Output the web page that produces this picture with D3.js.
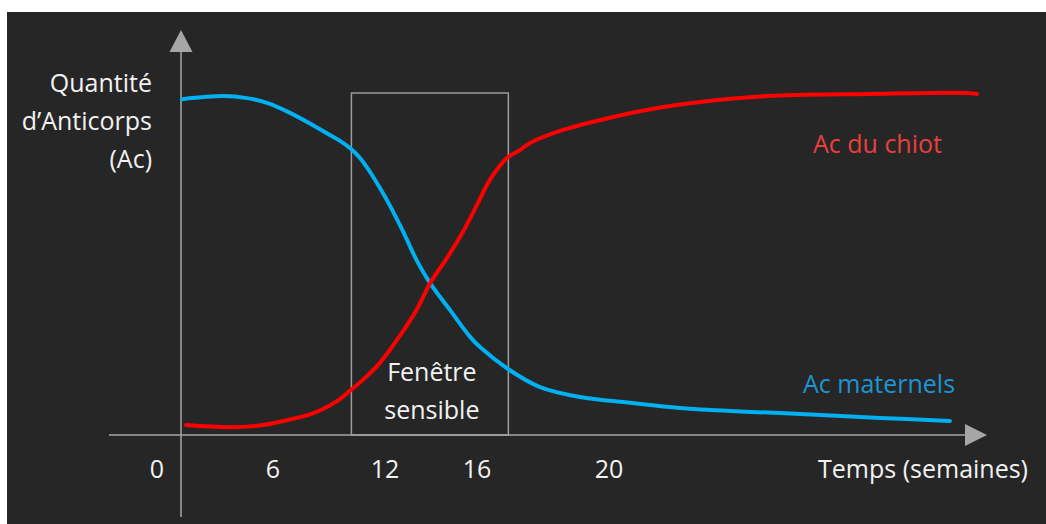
<!DOCTYPE html>
<html>
<head>
<meta charset="utf-8">
<script src="https://cdn.jsdelivr.net/npm/d3@7"></script>
<style>
  html, body { margin: 0; padding: 0; background: #ffffff; }
  svg { display: block; }
  text { font-family: "Open Sans", "Noto Sans", sans-serif; }
</style>
</head>
<body>
<svg id="chart" width="1046" height="524"></svg>
<script>
// ---- data ----
const tickWeeks = [0, 6, 12, 16, 20];
const tickLabels = ["0", "6", "12", "16", "20"];

const maternalWeeks = [0.07, 2.74, 4.31, 5.61, 6.91, 8.14, 9.05, 9.59, 10.12, 10.66, 11.2, 11.73, 12.22, 12.78, 13.39, 13.96, 14.83, 15.7, 16.09, 16.94, 17.91, 19.12, 20.64, 22.15, 23.97, 25.18, 28.21, 30.33];
const maternalValues = [98.2, 99.1, 98.5, 97.1, 94.2, 90.6, 87.7, 86.0, 83.9, 81.0, 76.9, 72.2, 67.0, 59.6, 50.9, 44.4, 36.5, 28.7, 25.7, 19.3, 14.0, 11.1, 9.4, 7.9, 6.9, 6.4, 5.0, 4.1];

const puppyWeeks = [0.33, 3.2, 5.35, 7.29, 7.98, 8.68, 9.43, 10.12, 10.93, 11.73, 12.52, 13.39, 13.96, 14.7, 15.39, 16.0, 16.39, 16.91, 17.3, 17.61, 18.61, 20.12, 21.64, 22.76, 24.79, 27.82, 30.85, 31.15];
const puppyValues = [2.9, 2.3, 2.9, 5.0, 6.0, 7.6, 9.9, 12.9, 16.7, 21.1, 27.8, 36.8, 44.4, 51.8, 59.4, 67.3, 74.6, 81.0, 83.3, 85.4, 89.2, 93.0, 95.9, 97.4, 99.1, 99.7, 100, 99.7];

const windowWeeks = [10.2, 16.95];
const windowLabel = ["Fenêtre", "sensible"];
const yLabel = ["Quantité", "d’Anticorps", "(Ac)"];
const xLabel = "Temps (semaines)";
const seriesNames = ["Ac maternels", "Ac du chiot"];

// ---- layout ----
const svg = d3.select("#chart");
const W = 1046, H = 524;
const FONT = 25;

svg.append("rect").attr("x", 7).attr("y", 12).attr("width", W - 7).attr("height", H - 12).attr("fill", "#262626");

const x = d3.scaleLinear().domain(tickWeeks).range([181, 273, 385, 477, 609]);
const y = d3.scaleLinear().domain([0, 100]).range([435, 93]);

const axisColor = "#a6a6a6";
const x0 = x(0), y0 = y(0);

// sensitive window box
svg.append("rect")
  .attr("x", x(windowWeeks[0])).attr("y", y(100))
  .attr("width", x(windowWeeks[1]) - x(windowWeeks[0]))
  .attr("height", y(0) - y(100))
  .attr("fill", "none").attr("stroke", "#9c9c9c").attr("stroke-width", 1.5);

// axes
svg.append("line").attr("x1", x0).attr("x2", x0).attr("y1", 52).attr("y2", 517)
  .attr("stroke", axisColor).attr("stroke-width", 1.5);
svg.append("path").attr("d", `M${x0},30 L${x0 - 11.5},52 L${x0 + 11.5},52 Z`).attr("fill", axisColor);
svg.append("line").attr("x1", 109).attr("x2", 965).attr("y1", y0).attr("y2", y0)
  .attr("stroke", axisColor).attr("stroke-width", 1.5);
svg.append("path").attr("d", `M987,${y0} L965,${y0 - 11} L965,${y0 + 11} Z`).attr("fill", axisColor);

// curves
const line = d3.line().x(d => x(d[0])).y(d => y(d[1])).curve(d3.curveCatmullRom.alpha(0.5));
const maternal = d3.zip(maternalWeeks, maternalValues);
const puppy = d3.zip(puppyWeeks, puppyValues);

svg.append("path").datum(maternal).attr("d", line)
  .attr("fill", "none").attr("stroke", "#00b0f0").attr("stroke-width", 4).attr("stroke-linecap", "round");
svg.append("path").datum(puppy).attr("d", line)
  .attr("fill", "none").attr("stroke", "#ff0000").attr("stroke-width", 4).attr("stroke-linecap", "round");

// tick labels
svg.selectAll("text.tick").data(tickWeeks).enter().append("text")
  .attr("class", "tick")
  .attr("x", (d, i) => x(d) + (i === 0 ? -24 : 0))
  .attr("y", 478)
  .attr("text-anchor", "middle")
  .attr("font-size", FONT)
  .attr("fill", "#f2f2f2")
  .text((d, i) => tickLabels[i]);

svg.append("text").attr("x", 1028).attr("y", 478).attr("text-anchor", "end")
  .attr("font-size", FONT).attr("fill", "#f2f2f2").text(xLabel);

// y label
svg.selectAll("text.ylab").data(yLabel).enter().append("text")
  .attr("class", "ylab")
  .attr("x", 152).attr("y", (d, i) => 92 + i * 38)
  .attr("text-anchor", "end").attr("font-size", FONT).attr("fill", "#f2f2f2")
  .text(d => d);

// window label
svg.selectAll("text.win").data(windowLabel).enter().append("text")
  .attr("class", "win")
  .attr("x", (x(windowWeeks[0]) + x(windowWeeks[1])) / 2 + 2).attr("y", (d, i) => 381 + i * 38)
  .attr("text-anchor", "middle").attr("font-size", FONT).attr("fill", "#f2f2f2")
  .text(d => d);

// series labels
svg.append("text").attr("x", 803).attr("y", 393).attr("font-size", FONT)
  .attr("fill", "#1b95d3").text(seriesNames[0]);
svg.append("text").attr("x", 813).attr("y", 153).attr("font-size", FONT)
  .attr("fill", "#e8403f").text(seriesNames[1]);
</script>
</body>
</html>
